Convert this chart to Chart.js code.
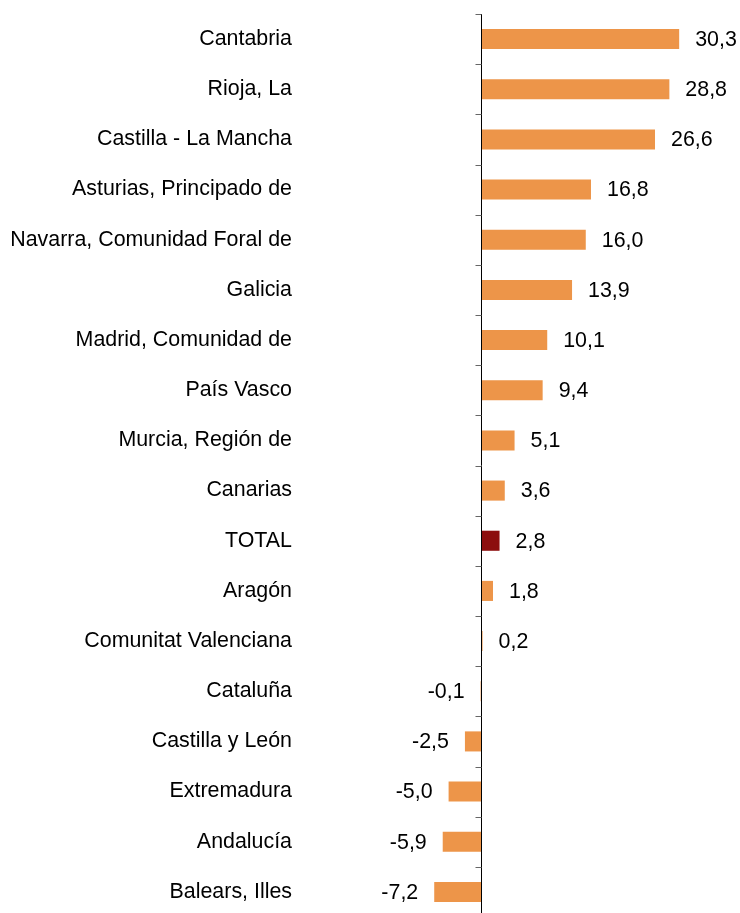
<!DOCTYPE html>
<html>
<head>
<meta charset="utf-8">
<script src="https://cdn.jsdelivr.net/npm/chart.js@4"></script>
<style>
  html, body { margin: 0; background: #fff; overflow: hidden; }
  #wrap { width: 740px; height: 917px; position: relative; }
</style>
</head>
<body>
<div id="wrap"><canvas id="regions"></canvas></div>
<script>
const regiones = [
  "Cantabria", "Rioja, La", "Castilla - La Mancha", "Asturias, Principado de",
  "Navarra, Comunidad Foral de", "Galicia", "Madrid, Comunidad de", "País Vasco",
  "Murcia, Región de", "Canarias", "TOTAL", "Aragón", "Comunitat Valenciana",
  "Cataluña", "Castilla y León", "Extremadura", "Andalucía", "Balears, Illes"
];
const variacion = [30.3, 28.8, 26.6, 16.8, 16.0, 13.9, 10.1, 9.4, 5.1, 3.6, 2.8, 1.8, 0.2, -0.1, -2.5, -5.0, -5.9, -7.2];
const naranja = "#ED9549";
const rojoTotal = "#8C0E0E";
const colores = regiones.map((r) => (r === "TOTAL" ? rojoTotal : naranja));
const fuente = "'Liberation Sans', Arial, sans-serif";
const tamFuente = 21.4;

// zero line + short ticks between categories
const ejeCero = {
  id: "ejeCero",
  afterDatasetsDraw(chart) {
    const ctx = chart.ctx;
    const x = chart.scales.x;
    const y = chart.scales.y;
    const x0 = Math.round(x.getPixelForValue(0)) + 0.5;
    const paso = y.getPixelForValue(1) - y.getPixelForValue(0);
    ctx.save();
    ctx.strokeStyle = "#000";
    ctx.lineWidth = 1;
    ctx.beginPath();
    ctx.moveTo(x0, chart.chartArea.top);
    ctx.lineTo(x0, chart.chartArea.bottom);
    ctx.stroke();
    ctx.strokeStyle = "#666";
    for (let i = 0; i <= regiones.length; i++) {
      const yy = Math.round(y.getPixelForValue(i) - paso / 2) + 0.5;
      ctx.beginPath();
      ctx.moveTo(x0 - 6, yy);
      ctx.lineTo(x0, yy);
      ctx.stroke();
    }
    ctx.restore();
  },
};

// value labels at bar ends
const etiquetas = {
  id: "etiquetas",
  afterDatasetsDraw(chart) {
    const ctx = chart.ctx;
    const meta = chart.getDatasetMeta(0);
    ctx.save();
    ctx.font = tamFuente + "px " + fuente;
    ctx.fillStyle = "#000";
    ctx.textBaseline = "middle";
    meta.data.forEach((bar, i) => {
      const v = variacion[i];
      const txt = v.toFixed(1).replace(".", ",");
      if (v >= 0) {
        ctx.textAlign = "left";
        ctx.fillText(txt, bar.x + 16, bar.y + 1);
      } else {
        ctx.textAlign = "right";
        ctx.fillText(txt, bar.x - 16, bar.y + 1);
      }
    });
    ctx.restore();
  },
};

new Chart(document.getElementById("regions"), {
  type: "bar",
  data: {
    labels: regiones,
    datasets: [
      {
        data: variacion,
        backgroundColor: colores,
        borderWidth: 0,
        barPercentage: 0.4,
        categoryPercentage: 1,
      },
    ],
  },
  options: {
    indexAxis: "y",
    responsive: true,
    maintainAspectRatio: false,
    animation: false,
    layout: { padding: { top: 14, right: 4, bottom: 0, left: 0 } },
    plugins: {
      legend: { display: false },
      tooltip: { enabled: false },
    },
    scales: {
      x: {
        display: false,
        min: -8,
        max: 39,
      },
      y: {
        grid: { display: false, drawTicks: false },
        border: { display: false },
        afterFit(scale) {
          scale.width = 429;
          scale.paddingTop = 0;
          scale.paddingBottom = 0;
        },
        ticks: {
          autoSkip: false,
          padding: 137,
          color: "#000",
          font: { family: fuente, size: tamFuente },
        },
      },
    },
  },
  plugins: [ejeCero, etiquetas],
});
</script>
</body>
</html>
